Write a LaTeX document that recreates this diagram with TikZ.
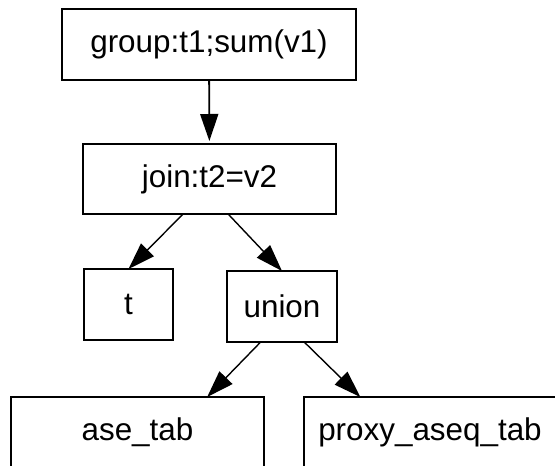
\documentclass[tikz,border=0pt]{standalone}
\usepackage{fontspec}
\setmainfont{Liberation Sans}
\usetikzlibrary{arrows.meta}
\begin{document}
\begin{tikzpicture}[x=1pt,y=-1pt,
  box/.style={draw, line width=2.5pt, outer sep=0pt, inner sep=0pt,
    minimum height=71pt, font=\fontsize{31.4}{37}\selectfont},
  edge/.style={line width=1.4pt, -{Triangle[length=27pt,width=18pt]}}]
\useasboundingbox (0,0) rectangle (555,466);
\clip (0,0) rectangle (555,466);
\node[box, minimum width=294pt] (group) at (209,44.5) {group:t1;sum(v1)};
\node[box, minimum width=253pt, minimum height=70pt] (join) at (209.5,179) {join:t2=v2};
\node[box, minimum width=89pt] (t) at (128.5,304.5) {t};
\node[box, minimum width=110pt] (union) at (282,306.5) {union};
\node[box, minimum width=253pt] (ase) at (137.5,432.5) {ase\_tab};
\node[box, minimum width=252pt] (proxy) at (430,432.5) {proxy\_aseq\_tab};
\draw[edge, line width=1.8pt, shorten >=3pt] (group) -- (join);
\draw[edge] (join.-127) -- (t.north);
\draw[edge] (join.-62) -- (union.north);
\draw[edge] (union.-121) -- (ase.27);
\draw[edge] (union.-58) -- (proxy.153);
\end{tikzpicture}
\end{document}
